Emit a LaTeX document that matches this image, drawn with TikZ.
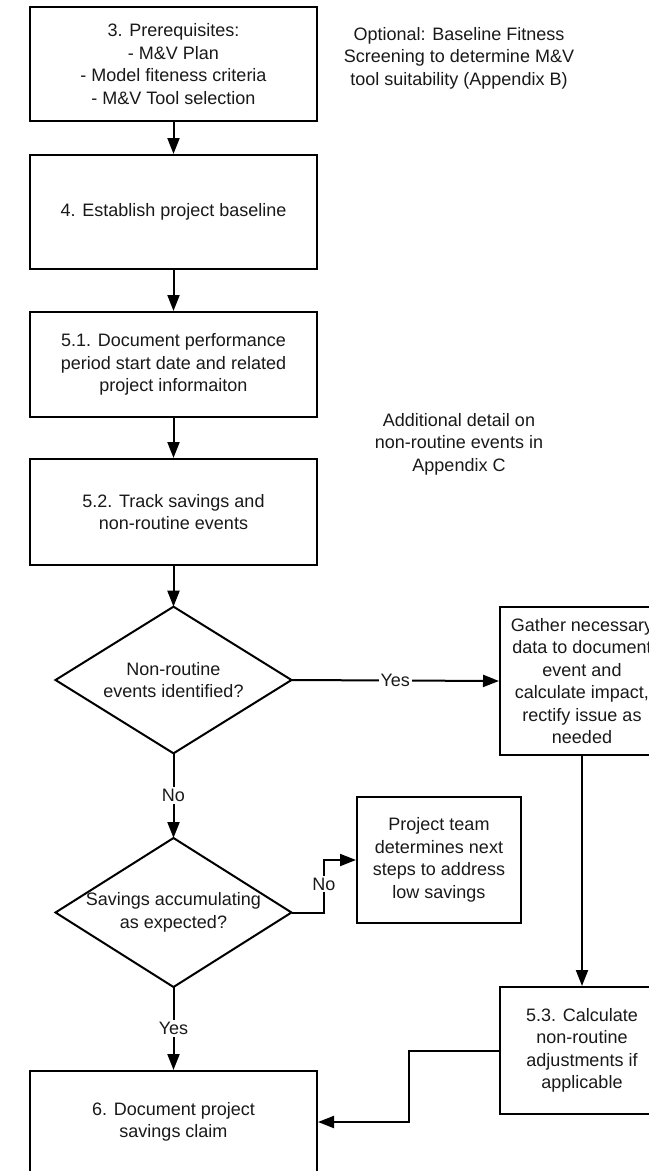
\documentclass[tikz,border=0pt]{standalone}
\usepackage{fontspec}
\setmainfont{Liberation Sans}
\usetikzlibrary{shapes.geometric,arrows.meta,calc}
\begin{document}
\begin{tikzpicture}[x=0.75pt,y=-0.75pt,
  font=\fontsize{13.5}{16.9}\selectfont,
  every node/.style={text=black!90},
  stepbox/.style={draw=black, line width=1.5pt, align=center, inner sep=2pt, fill=white},
  wide/.style={stepbox, minimum width=215.25pt},
  narrow/.style={stepbox, minimum width=123pt},
  decision/.style={diamond, draw=black, line width=1.5pt, inner sep=0pt, outer sep=0pt,
     minimum width=177pt, minimum height=110pt},
  note/.style={align=center, inner sep=0pt},
  lbl/.style={fill=white, inner sep=1.5pt},
  arr/.style={draw=black, line width=1.5pt, -{Triangle[length=12pt,width=9pt]}}
]
\useasboundingbox (0,0) rectangle (649,1171);
\fill[white] (0,0) rectangle (649,1171);
\clip (0,0) rectangle (649,1171);

% main column
\node[wide, minimum height=85.5pt] (b3) at (173.5,64)
  {3. Prerequisites:\\- M\&V Plan\\- Model fiteness criteria\\- M\&V Tool selection};
\node[wide, minimum height=85.5pt] (b4) at (173.5,212) {4. Establish project baseline};
\node[wide, minimum height=78.75pt] (b51) at (173.5,364.5)
  {5.1. Document performance\\period start date and related\\project informaiton};
\node[wide, minimum height=79.5pt] (b52) at (173.5,512)
  {5.2. Track savings and\\non-routine events};
\node[decision, label={[align=center]center:Non-routine\\events identified?}] (d1) at (173.5,680) {};
\node[decision, minimum height=111.75pt,
      label={[align=center]center:Savings accumulating\\as expected?}] (d2) at (173.5,912.5) {};
\node[wide, minimum height=76.5pt] (b6) at (173.5,1122)
  {6. Document project\\savings claim};

% right column
\node[narrow, minimum height=111pt] (gath) at (582,681)
  {Gather necessary\\data to document\\event and\\calculate impact,\\rectify issue as\\needed};
\node[narrow, minimum height=94.5pt] (team) at (439,860)
  {Project team\\determines next\\steps to address\\low savings};
\node[narrow, minimum height=95.25pt] (b53) at (582,1050.5)
  {5.3. Calculate\\non-routine\\adjustments if\\applicable};

% notes
\node[note] (opt) at (459,58)
  {Optional: Baseline Fitness\\Screening to determine M\&V\\tool suitability (Appendix B)};
\node[note] (appc) at (459,444)
  {Additional detail on\\non-routine events in\\Appendix C};

% connectors
\draw[arr] (b3.south) -- (b4.north);
\draw[arr] (b4.south) -- (b51.north);
\draw[arr] (b51.south) -- (b52.north);
\draw[arr] (b52.south) -- (d1.north);
\draw[arr] (d1.east) -- node[lbl] (yes1) {Yes} (gath.west);
\draw[arr] (d1.south) -- node[lbl] (no1) {No} (d2.north);
\draw[arr] (d2.east) -| ($(d2.east)!0.5!(team.west)$) |- (team.west);
\node[lbl] (no2) at (324,884) {No};
\draw[arr] (d2.south) -- node[lbl] (yes2) {Yes} (b6.north);
\draw[arr] (gath.south) -- (b53.north);
\draw[arr] (b53.west) -| ($(b53.west)!0.5!(b6.east)$) |- (b6.east);
\end{tikzpicture}
\end{document}
